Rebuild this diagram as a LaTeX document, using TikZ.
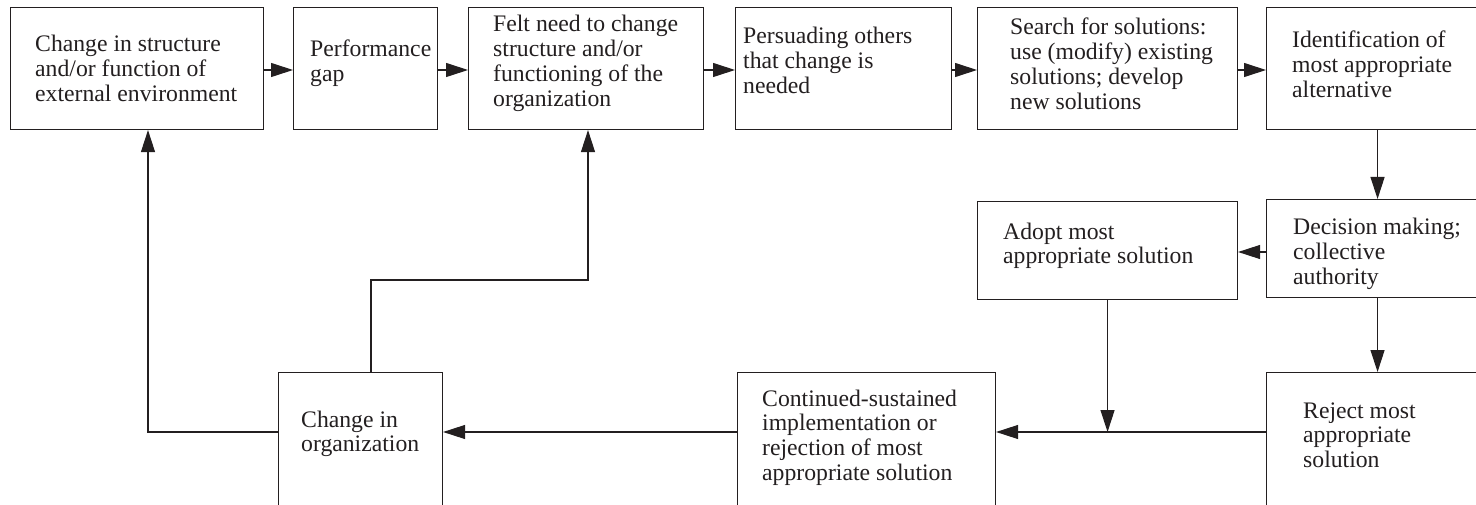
\documentclass[tikz,border=0pt]{standalone}
\usepackage{fontspec}
\setmainfont{Liberation Serif}
\usetikzlibrary{arrows.meta}
\definecolor{ink}{RGB}{35,31,32}
\tikzset{
  box/.style={draw=ink, line width=1.1pt, rectangle, inner sep=0pt, anchor=north west},
  % texts are placed by the baseline of their last line
  txt/.style={inner sep=0pt, anchor=base west, align=left, text=ink,
              font=\fontsize{23.7}{24.8}\selectfont},
  arr/.style={draw=ink, line width=1.1pt, -{Triangle[length=22pt,width=14pt]}},
  link/.style={draw=ink, line width=1.1pt}
}
\begin{document}
\begin{tikzpicture}[x=1pt,y=-1pt]
\useasboundingbox (0,0) rectangle (1476,505);
\fill[white] (0,0) rectangle (1476,505);
\clip (0,0) rectangle (1476,505);

% top row
\node[box, minimum width=253pt, minimum height=122pt] (b1) at (10,7) {};
\node[box, minimum width=144pt, minimum height=122pt] (b2) at (293,7) {};
\node[box, minimum width=235pt, minimum height=122pt] (b3) at (468,7) {};
\node[box, minimum width=216pt, minimum height=122pt] (b4) at (735,7) {};
\node[box, minimum width=260pt, minimum height=122pt] (b5) at (977,7) {};
\node[box, minimum width=222pt, minimum height=122pt] (b6) at (1266,7) {};
% middle row
\node[box, minimum width=222pt, minimum height=98pt] (dec) at (1266,199) {};
\node[box, minimum width=260pt, minimum height=98pt] (adopt) at (977,201) {};
% bottom row (runs past the lower edge)
\node[box, minimum width=164pt, minimum height=160pt] (org) at (278,372) {};
\node[box, minimum width=258pt, minimum height=160pt] (cont) at (737,372) {};
\node[box, minimum width=222pt, minimum height=160pt] (rej) at (1266,372) {};

% texts
\node[txt] (t1) at (35,101.6) {Change in structure\\and/or function of\\external environment};
\node[txt] (t2) at (310,81.8) {Performance\\gap};
\node[txt] (t3) at (493,106.4) {Felt need to change\\structure and/or\\functioning of the\\organization};
\node[txt] (t4) at (743,93.6) {Persuading others\\that change is\\needed};
\node[txt] (t5) at (1010,109.4) {Search for solutions:\\use (modify) existing\\solutions; develop\\new solutions};
\node[txt] (t6) at (1292,97.6) {Identification of\\most appropriate\\alternative};
\node[txt] (t7) at (1293,284.6) {Decision making;\\collective\\authority};
\node[txt] (t8) at (1003,263.8) {Adopt most\\appropriate solution};
\node[txt] (t9) at (301,451.8) {Change in\\organization};
\node[txt] (t10) at (762,480.4) {Continued-sustained\\implementation or\\rejection of most\\appropriate solution};
\node[txt] (t11) at (1303,467.6) {Reject most\\appropriate\\solution};

% reference levels for the connectors
\coordinate (ty) at (0,70);
\coordinate (dy) at (0,252);
\coordinate (ry) at (0,432);
\coordinate (fx) at (148,0);
\coordinate (gx) at (588,0);
\coordinate (ox) at (371,280);

% top row flow
\draw[arr] (b1.east |- ty) -- (b2.west |- ty);
\draw[arr] (b2.east |- ty) -- (b3.west |- ty);
\draw[arr] (b3.east |- ty) -- (b4.west |- ty);
\draw[arr] (b4.east |- ty) -- (b5.west |- ty);
\draw[arr] (b5.east |- ty) -- (b6.west |- ty);

% right column
\draw[arr] (b6.south) -- (dec.north);
\draw[arr] (dec.west |- dy) -- (adopt.east |- dy);
\draw[arr] (dec.south) -- (rej.north);

% bottom row
\draw[arr] (adopt.south) -- (adopt.south |- ry);
\draw[arr] (rej.north west |- ry) -- (cont.north east |- ry);
\draw[arr] (cont.north west |- ry) -- (org.north east |- ry);

% feedback loops
\draw[arr] (org.north west |- ry) -| (b1.south -| fx);
\draw[arr] (org.north -| ox) |- (ox -| gx) -- (b3.south -| gx);
\end{tikzpicture}
\end{document}
